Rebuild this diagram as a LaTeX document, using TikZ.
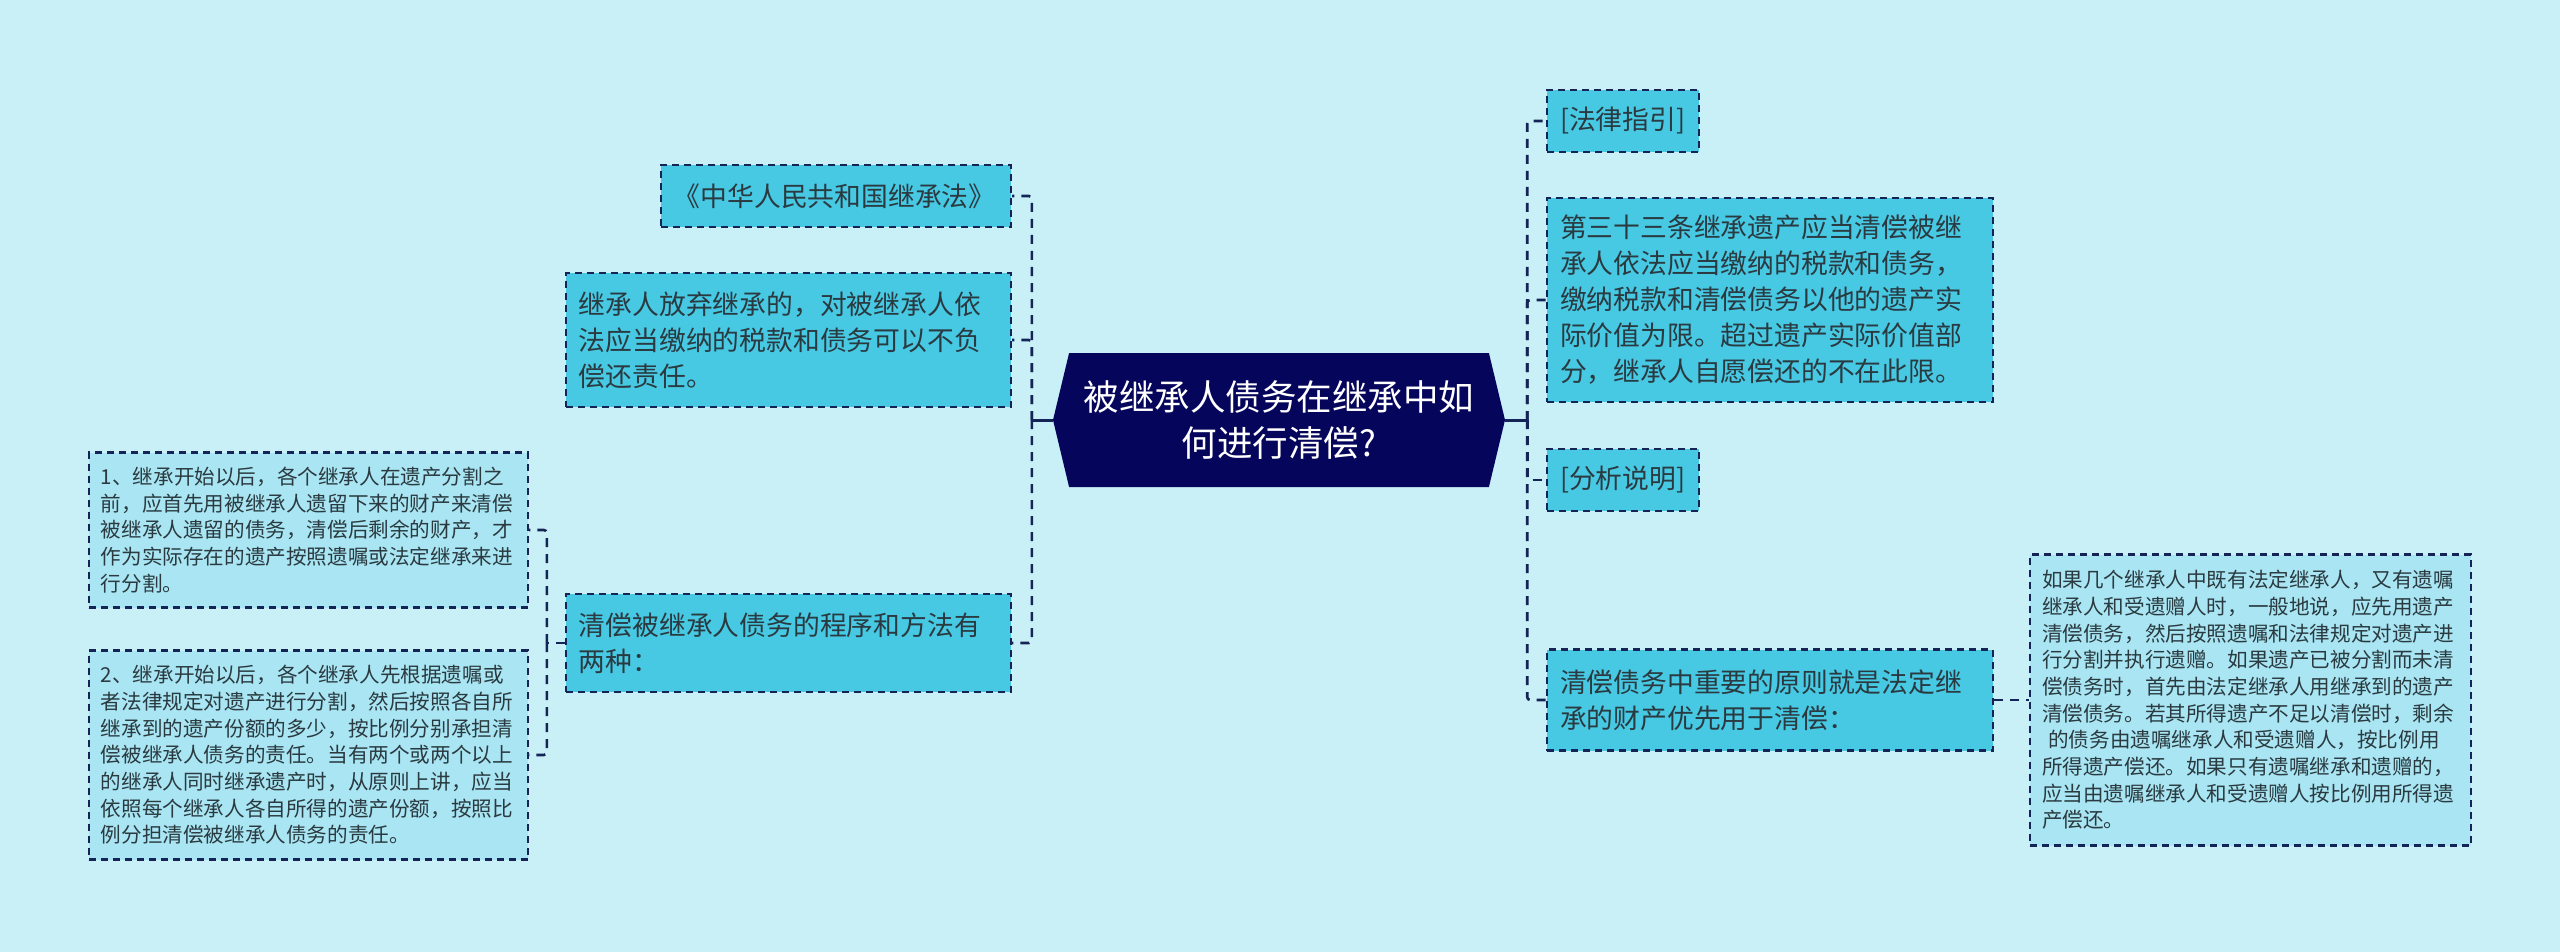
\documentclass[tikz,border=0pt]{standalone}
\usepackage{fontspec}
\setmainfont{Noto Sans CJK SC}
\usetikzlibrary{shapes.symbols}

\definecolor{bgcyan}{HTML}{C9F0F7}
\definecolor{topicfill}{HTML}{47C8E3}
\definecolor{detailfill}{HTML}{A9E5F2}
\definecolor{rootnavy}{HTML}{05055C}
\definecolor{edgenavy}{HTML}{142457}
\definecolor{inktext}{HTML}{2A3A40}

\tikzset{
  topic/.style={draw=edgenavy, fill=topicfill, line width=2.2pt, dash pattern=on 7pt off 5pt,
    inner xsep=13pt, inner ysep=6pt, align=left, text=inktext,
    font=\fontsize{26.8}{36}\selectfont},
  detail/.style={topic, fill=detailfill, inner xsep=12pt, font=\fontsize{20.6}{26.7}\selectfont},
  rootbox/.style={signal, signal to=west and east, signal pointer angle=153, fill=rootnavy,
    text=white, align=center, font=\fontsize{35.5}{46.7}\selectfont,
    minimum width=452pt, minimum height=134pt},
  link/.style={draw=edgenavy, line width=2.6pt, dash pattern=on 9pt off 7pt, rounded corners=3pt},
  stub/.style={draw=edgenavy, line width=3pt}
}

\begin{document}
\begin{tikzpicture}[x=1pt,y=-1pt]
  \fill[bgcyan] (0,0) rectangle (2560,952);
  \useasboundingbox (0,0) rectangle (2560,952);

  % centre
  \node[rootbox] (root) at (1279,420) {被继承人债务在继承中如\\何进行清偿?};

  % right side
  \node[topic, anchor=west, text width=126pt, minimum height=62pt] (law) at (1546,121) {[法律指引]};
  \node[topic, anchor=west, text width=420pt, minimum height=204pt] (art33) at (1546,300)
    {第三十三条继承遗产应当清偿被继\\承人依法应当缴纳的税款和债务，\\缴纳税款和清偿债务以他的遗产实\\际价值为限。超过遗产实际价值部\\分，继承人自愿偿还的不在此限。};
  \node[topic, anchor=west, text width=126pt, minimum height=62pt] (ana) at (1546,480) {[分析说明]};
  \node[topic, anchor=west, text width=420pt, minimum height=101pt] (rule) at (1546,700)
    {清偿债务中重要的原则就是法定继\\承的财产优先用于清偿：};
  \node[detail, anchor=west, text width=417pt, minimum height=291pt] (ruleNote) at (2029,700)
    {如果几个继承人中既有法定继承人，又有遗嘱\\继承人和受遗赠人时，一般地说，应先用遗产\\清偿债务，然后按照遗嘱和法律规定对遗产进\\行分割并执行遗赠。如果遗产已被分割而未清\\偿债务时，首先由法定继承人用继承到的遗产\\清偿债务。若其所得遗产不足以清偿时，剩余\\\hspace{0.3em}的债务由遗嘱继承人和受遗赠人，按比例用\\所得遗产偿还。如果只有遗嘱继承和遗赠的，\\应当由遗嘱继承人和受遗赠人按比例用所得遗\\产偿还。};

  % left side
  \node[topic, anchor=east, text width=324pt, minimum height=62pt] (code) at (1012,196) {《中华人民共和国继承法》};
  \node[topic, anchor=east, text width=419pt, minimum height=134pt] (waive) at (1012,340)
    {继承人放弃继承的，对被继承人依\\法应当缴纳的税款和债务可以不负\\偿还责任。};
  \node[topic, anchor=east, text width=419pt, minimum height=98pt] (method) at (1012,643)
    {清偿被继承人债务的程序和方法有\\两种：};
  \node[detail, anchor=east, text width=415pt, minimum height=155pt] (step1) at (529,530)
    {1、继承开始以后，各个继承人在遗产分割之\\前，应首先用被继承人遗留下来的财产来清偿\\被继承人遗留的债务，清偿后剩余的财产，才\\作为实际存在的遗产按照遗嘱或法定继承来进\\行分割。};
  \node[detail, anchor=east, text width=415pt, minimum height=209pt] (step2) at (529,755)
    {2、继承开始以后，各个继承人先根据遗嘱或\\者法律规定对遗产进行分割，然后按照各自所\\继承到的遗产份额的多少，按比例分别承担清\\偿被继承人债务的责任。当有两个或两个以上\\的继承人同时继承遗产时，从原则上讲，应当\\依照每个继承人各自所得的遗产份额，按照比\\例分担清偿被继承人债务的责任。};

  % connectors
  \draw[stub] (root.east) -- ++(22,0) coordinate (rspine);
  \foreach \n in {law,art33,ana,rule}
    \draw[link] (rspine) |- (\n.west);
  \draw[stub] (root.west) -- ++(-21,0) coordinate (lspine);
  \foreach \n in {code,waive,method}
    \draw[link] (lspine) |- (\n.east);
  \draw[link] (method.west) -- ++(-18,0) coordinate (mspine);
  \draw[link] (mspine) |- (step1.east);
  \draw[link] (mspine) |- (step2.east);
  \draw[link] (rule.east) -- (ruleNote.west);
\end{tikzpicture}
\end{document}
